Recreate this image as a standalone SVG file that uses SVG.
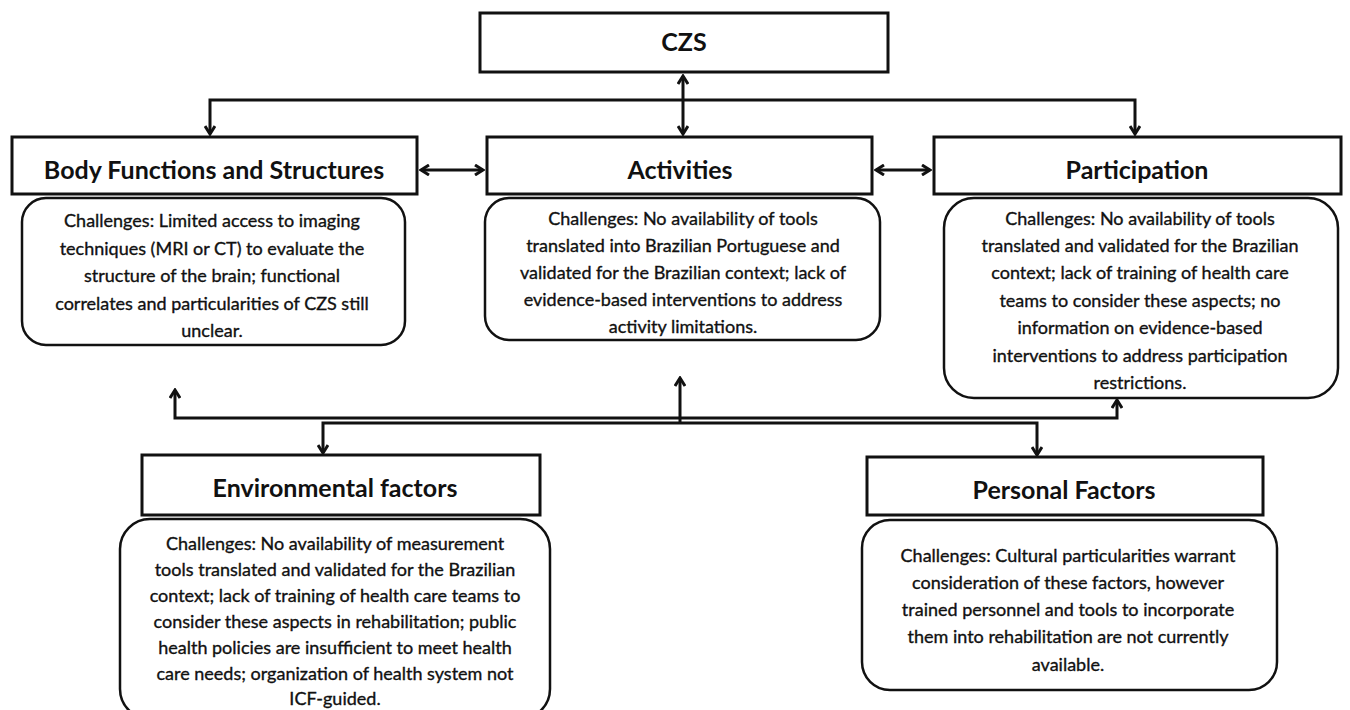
<svg xmlns="http://www.w3.org/2000/svg" width="1350" height="710" viewBox="0 0 1350 710">
<style>
.hbox{fill:#fff;stroke:#111;stroke-width:3}
.cbox{fill:#fff;stroke:#111;stroke-width:2.5}
.h{font-family:Lato,"Liberation Sans",sans-serif;font-weight:bold;font-size:25px;fill:#111;text-anchor:middle}
.t{font-family:Lato,"Liberation Sans",sans-serif;font-size:18px;fill:#111;stroke:#111;stroke-width:0.35;text-anchor:middle}
.c{fill:none;stroke:#111;stroke-width:3}
</style>
<defs>
<marker id="ah" viewBox="0 0 12 12" refX="10" refY="6" markerWidth="12" markerHeight="12" markerUnits="userSpaceOnUse" orient="auto-start-reverse">
<path d="M2,1 L10,6 L2,11" fill="none" stroke="#111" stroke-width="3" stroke-linejoin="miter"/>
</marker>
</defs>
<rect width="1350" height="710" fill="#fff"/>
<g id="connectors">
<path class="c" d="M210,134 V100 H1135 V134" marker-start="url(#ah)" marker-end="url(#ah)"/>
<line class="c" x1="683" y1="76" x2="683" y2="134" marker-start="url(#ah)" marker-end="url(#ah)"/>
<line class="c" x1="421" y1="170" x2="483" y2="170" marker-start="url(#ah)" marker-end="url(#ah)"/>
<line class="c" x1="876" y1="170" x2="930" y2="170" marker-start="url(#ah)" marker-end="url(#ah)"/>
<path class="c" d="M175,390 V418 H1117 V400" marker-start="url(#ah)" marker-end="url(#ah)"/>
<path class="c" d="M323,453 V423 H1037 V455" marker-start="url(#ah)" marker-end="url(#ah)"/>
<line class="c" x1="680" y1="424" x2="680" y2="378" marker-end="url(#ah)"/>
</g>
<g id="czs">
<rect class="hbox" x="480" y="13" width="408" height="59"/>
<text class="h" x="684" y="51">CZS</text>
</g>
<g id="body">
<rect class="hbox" x="12" y="137" width="405" height="57"/>
<text class="h" x="214" y="179">Body Functions and Structures</text>
</g>
<g id="body-challenges">
<rect class="cbox" x="22" y="198" width="383" height="147" rx="24"/>
<text class="t" x="212" y="227">Challenges: Limited access to imaging</text>
<text class="t" x="212" y="255">techniques (MRI or CT) to evaluate the</text>
<text class="t" x="212" y="282">structure of the brain; functional</text>
<text class="t" x="212" y="310">correlates and particularities of CZS still</text>
<text class="t" x="212" y="337">unclear.</text>
</g>
<g id="activities">
<rect class="hbox" x="487" y="137" width="385" height="57"/>
<text class="h" x="680" y="179">Activities</text>
</g>
<g id="activities-challenges">
<rect class="cbox" x="485" y="198" width="395" height="142" rx="24"/>
<text class="t" x="683" y="225">Challenges: No availability of tools</text>
<text class="t" x="683" y="252">translated into Brazilian Portuguese and</text>
<text class="t" x="683" y="279">validated for the Brazilian context; lack of</text>
<text class="t" x="683" y="306">evidence-based interventions to address</text>
<text class="t" x="683" y="333">activity limitations.</text>
</g>
<g id="participation">
<rect class="hbox" x="934" y="137" width="407" height="57"/>
<text class="h" x="1137" y="179">Participation</text>
</g>
<g id="participation-challenges">
<rect class="cbox" x="944" y="198" width="394" height="200" rx="30"/>
<text class="t" x="1140" y="225">Challenges: No availability of tools</text>
<text class="t" x="1140" y="252">translated and validated for the Brazilian</text>
<text class="t" x="1140" y="279">context; lack of training of health care</text>
<text class="t" x="1140" y="307">teams to consider these aspects; no</text>
<text class="t" x="1140" y="334">information on evidence-based</text>
<text class="t" x="1140" y="362">interventions to address participation</text>
<text class="t" x="1140" y="389">restrictions.</text>
</g>
<g id="environmental">
<rect class="hbox" x="142" y="455" width="398" height="60"/>
<text class="h" x="335" y="497">Environmental factors</text>
</g>
<g id="environmental-challenges">
<rect class="cbox" x="120" y="519" width="430" height="200" rx="30"/>
<text class="t" x="335" y="550">Challenges: No availability of measurement</text>
<text class="t" x="335" y="576">tools translated and validated for the Brazilian</text>
<text class="t" x="335" y="602">context; lack of training of health care teams to</text>
<text class="t" x="335" y="628">consider these aspects in rehabilitation; public</text>
<text class="t" x="335" y="654">health policies are insufficient to meet health</text>
<text class="t" x="335" y="680">care needs; organization of health system not</text>
<text class="t" x="335" y="705">ICF-guided.</text>
</g>
<g id="personal">
<rect class="hbox" x="867" y="457" width="396" height="58"/>
<text class="h" x="1064" y="499">Personal Factors</text>
</g>
<g id="personal-challenges">
<rect class="cbox" x="862" y="520" width="415" height="170" rx="28"/>
<text class="t" x="1068" y="562">Challenges: Cultural particularities warrant</text>
<text class="t" x="1068" y="589">consideration of these factors, however</text>
<text class="t" x="1068" y="616">trained personnel and tools to incorporate</text>
<text class="t" x="1068" y="643">them into rehabilitation are not currently</text>
<text class="t" x="1068" y="671">available.</text>
</g>
</svg>
